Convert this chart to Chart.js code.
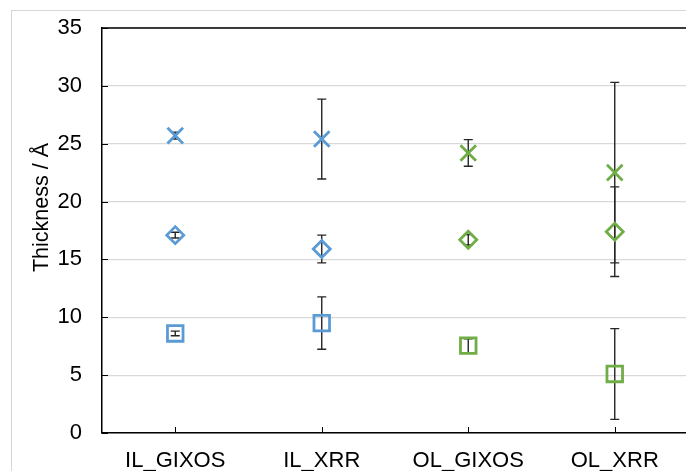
<!DOCTYPE html>
<html>
<head>
<meta charset="utf-8">
<script src="https://cdn.jsdelivr.net/npm/chart.js@4/dist/chart.umd.min.js"></script>
<style>
  html, body { margin: 0; padding: 0; background: #fff; overflow: hidden; width: 686px; height: 471px; }
  #frame { position: absolute; left: 11px; top: 10px; width: 700px; height: 480px;
           border-left: 1px solid #d6d6d6; border-top: 1px solid #d6d6d6; }
  #c { position: absolute; left: 0; top: 0; }
</style>
</head>
<body>
<div id="frame"></div>
<canvas id="c" width="688" height="471"></canvas>
<script>
// ---- data ----
const categories    = ['IL_GIXOS', 'IL_XRR', 'OL_GIXOS', 'OL_XRR'];
const yTickValues   = [0, 5, 10, 15, 20, 25, 30, 35];
const axisTitle     = 'Thickness / Å';

const crossValues   = [25.7, 25.4, 24.2, 22.5];
const crossErrors   = [0.3, 3.45, 1.15, 7.8];
const diamondValues = [17.1, 15.9, 16.7, 17.4];
const diamondErrors = [0.25, 1.2, 0.45, 3.87];
const squareValues  = [8.6, 9.5, 7.55, 5.1];
const squareErrors  = [0.2, 2.26, 0.6, 3.92];

// ---- styling ----
const BLUE = '#5b9bd5', GREEN = '#70ad47';
const pointColors = categories.map(c => c.startsWith('IL') ? BLUE : GREEN);
const FONT = "'Liberation Sans', Arial, sans-serif";

function ds(label, values, errors, style, radius) {
  return {
    label, data: values, errors,
    showLine: false,
    pointStyle: style,
    pointRadius: radius,
    pointHoverRadius: radius,
    pointBorderWidth: 2.8,
    pointBorderColor: pointColors,
    pointBackgroundColor: 'rgba(0,0,0,0)',
    borderColor: pointColors
  };
}

const decor = {
  id: 'decor',
  beforeDatasetsDraw(chart) {
    const ctx = chart.ctx, y = chart.scales.y;
    ctx.save();
    ctx.strokeStyle = '#262626';
    ctx.lineWidth = 1.4;
    chart.data.datasets.forEach((d, i) => {
      const meta = chart.getDatasetMeta(i);
      meta.data.forEach((pt, j) => {
        const e = d.errors[j], v = d.data[j];
        const y1 = y.getPixelForValue(v + e), y2 = y.getPixelForValue(v - e);
        const x = pt.x, cap = 4.5;
        ctx.beginPath();
        ctx.moveTo(x, y1); ctx.lineTo(x, y2);
        ctx.moveTo(x - cap, y1); ctx.lineTo(x + cap, y1);
        ctx.moveTo(x - cap, y2); ctx.lineTo(x + cap, y2);
        ctx.stroke();
      });
    });
    ctx.restore();
  },
  afterDraw(chart) {
    const ctx = chart.ctx, a = chart.chartArea, xs = chart.scales.x, ys = chart.scales.y;
    ctx.save();
    // top border
    ctx.strokeStyle = '#000';
    ctx.lineWidth = 1.5;
    ctx.beginPath();
    ctx.moveTo(a.left - 0.75, a.top); ctx.lineTo(a.right + 10, a.top);
    ctx.stroke();
    // inside tick marks
    ctx.lineWidth = 1;
    ctx.beginPath();
    ys.ticks.forEach(t => {
      const py = Math.round(ys.getPixelForValue(t.value)) + 0.5;
      ctx.moveTo(a.left, py); ctx.lineTo(a.left + 6, py);
    });
    categories.forEach((c, i) => {
      const px = Math.round(xs.getPixelForValue(i)) + 0.5;
      ctx.moveTo(px, a.bottom); ctx.lineTo(px, a.bottom - 6);
    });
    ctx.stroke();
    // axis title
    ctx.fillStyle = '#000';
    ctx.font = '21.5px ' + FONT;
    ctx.textAlign = 'center';
    ctx.textBaseline = 'middle';
    ctx.translate(42, (a.top + a.bottom) / 2 - 23);
    ctx.rotate(-Math.PI / 2);
    ctx.fillText(axisTitle, 0, 0);
    ctx.restore();
  }
};

new Chart(document.getElementById('c'), {
  type: 'line',
  data: {
    labels: categories,
    datasets: [
      ds('cross', crossValues, crossErrors, 'crossRot', 11),
      ds('diamond', diamondValues, diamondErrors, 'rectRot', 8.5),
      ds('square', squareValues, squareErrors, 'rect', 11)
    ]
  },
  options: {
    responsive: false,
    animation: false,
    events: [],
    layout: { autoPadding: false, padding: { top: 28, left: 0, right: 0, bottom: 0 } },
    plugins: { legend: { display: false }, tooltip: { enabled: false } },
    scales: {
      x: {
        type: 'category',
        offset: true,
        grid: { display: false, drawTicks: false },
        border: { display: true, color: '#000', width: 1.5 },
        ticks: { color: '#000', font: { family: FONT, size: 22 }, padding: 15, maxRotation: 0 },
        afterFit(s) { s.height = 38; s.paddingLeft = 0; s.paddingRight = 0; }
      },
      y: {
        min: 0, max: 35,
        afterBuildTicks(s) { s.ticks = yTickValues.map(v => ({ value: v })); },
        grid: { color: '#d9d9d9', lineWidth: 1.2, drawTicks: false },
        border: { display: true, color: '#000', width: 1.5 },
        ticks: { color: '#000', font: { family: FONT, size: 22 }, padding: 20 },
        afterFit(s) { s.width = 102; s.paddingTop = 0; s.paddingBottom = 0; }
      }
    }
  },
  plugins: [decor]
});
</script>
</body>
</html>
